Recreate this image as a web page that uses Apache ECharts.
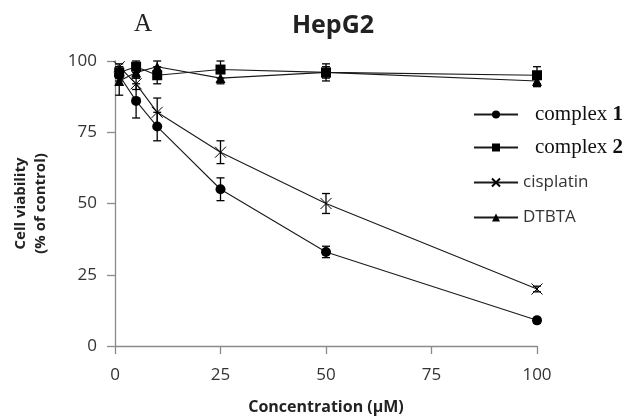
<!DOCTYPE html>
<html>
<head>
<meta charset="utf-8">
<script src="https://cdn.jsdelivr.net/npm/echarts@6/dist/echarts.min.js"></script>
<style>
  html, body { margin: 0; padding: 0; background: #fff; }
  #chart { width: 639px; height: 420px; }
</style>
</head>
<body>
<div id="chart"></div>
<script>
// concentrations (uM)
const conc = [1, 5, 10, 25, 50, 100];

const complex1 = [95, 86, 77, 55, 33, 9];
const complex1Err = [2, 6, 5, 4, 2, 1];
const complex2 = [96, 98, 95, 97, 96, 95];
const complex2Err = [2, 2, 3, 3, 3, 3];
const cisplatin = [98, 92, 82, 68, 50, 20];
const cisplatinErr = [1, 2, 5, 4, 3.5, 1];
const dtbta = [93, 96, 98, 94, 96, 93];
const dtbtaErr = [5, 2, 2, 2, 2, 2];

const seriesNames = ['complex 1', 'complex 2', 'cisplatin', 'DTBTA'];
const xTicks = [0, 25, 50, 75, 100];
const yTicks = [0, 25, 50, 75, 100];

const chart = echarts.init(document.getElementById('chart'));

const sans = '"Open Sans", sans-serif';
const serif = '"Liberation Serif", serif';
const crossPath = 'path://M0,0L10,10M10,0L0,10';

function pts(vals) {
  return conc.map((c, i) => [c, vals[i]]);
}

function errSeries(vals, errs) {
  return {
    type: 'custom',
    silent: true,
    z: 3,
    data: conc.map((c, i) => [c, vals[i] - errs[i], vals[i] + errs[i]]),
    renderItem: function (params, api) {
      const lo = api.coord([api.value(0), api.value(1)]);
      const hi = api.coord([api.value(0), api.value(2)]);
      const w = 4;
      const st = { stroke: '#000', lineWidth: 1.3 };
      return {
        type: 'group',
        children: [
          { type: 'line', shape: { x1: lo[0], y1: lo[1], x2: hi[0], y2: hi[1] }, style: st },
          { type: 'line', shape: { x1: lo[0] - w, y1: lo[1], x2: lo[0] + w, y2: lo[1] }, style: st },
          { type: 'line', shape: { x1: hi[0] - w, y1: hi[1], x2: hi[0] + w, y2: hi[1] }, style: st }
        ]
      };
    }
  };
}

function lineSeries(name, vals, symbol, size, extra) {
  return Object.assign({
    name: name,
    type: 'line',
    data: pts(vals),
    symbol: symbol,
    symbolSize: size,
    z: 4,
    lineStyle: { color: '#1a1a1a', width: 1.1 },
    itemStyle: { color: '#000' }
  }, extra || {});
}

// one legend block per entry so the rows can sit where the reference has them
const legendTops = [99, 132, 169, 204];
const legendRich = {
  s: { fontFamily: serif, fontSize: 21, color: '#111', padding: [0, 0, 0, 12] },
  b: { fontFamily: serif, fontSize: 21, fontWeight: 'bold', color: '#111' },
  t: { fontFamily: sans, fontSize: 17, color: '#333' }
};
const legends = seriesNames.map((name, i) => ({
  orient: 'vertical',
  left: 468, top: legendTops[i],
  itemWidth: 44, itemHeight: 10,
  data: [name],
  formatter: function (n) {
    if (n === 'complex 1') return '{s|complex }{b|1}';
    if (n === 'complex 2') return '{s|complex }{b|2}';
    return '{t|' + n + '}';
  },
  textStyle: { rich: legendRich }
}));

const options = {
  backgroundColor: '#fff',
  animation: false,
  title: [
    {
      text: 'HepG2',
      left: 328, top: 8, textAlign: 'center',
      textStyle: { fontFamily: sans, fontSize: 25, fontWeight: 'bold', color: '#222' }
    },
    {
      text: 'A',
      left: 138, top: 7, textAlign: 'center',
      textStyle: { fontFamily: serif, fontSize: 25, fontWeight: 'normal', color: '#222' }
    }
  ],
  grid: { left: 115, right: 102, top: 61, bottom: 74 },
  legend: legends,
  xAxis: {
    type: 'value',
    min: 0, max: 100, interval: 25,
    name: 'Concentration (\u00b5M)',
    nameLocation: 'middle',
    nameGap: 53,
    nameTextStyle: { fontFamily: sans, fontSize: 16, fontWeight: 'bold', color: '#222' },
    splitLine: { show: false },
    axisLine: { lineStyle: { color: '#8a8a8a', width: 1.3 } },
    axisTick: { show: true, length: 8, lineStyle: { color: '#8a8a8a', width: 1.3 } },
    axisLabel: {
      margin: 21, fontFamily: sans, fontSize: 17, color: '#333',
      formatter: v => xTicks.includes(v) ? String(v) : ''
    }
  },
  yAxis: {
    type: 'value',
    min: 0, max: 100, interval: 25,
    name: 'Cell viability\n(% of control)',
    nameLocation: 'middle',
    nameGap: 64,
    nameRotate: 90,
    nameTextStyle: { fontFamily: sans, fontSize: 15, fontWeight: 'bold', color: '#222', lineHeight: 20 },
    splitLine: { show: false },
    axisLine: { show: true, lineStyle: { color: '#8a8a8a', width: 1.3 } },
    axisTick: { show: true, length: 8, lineStyle: { color: '#8a8a8a', width: 1.3 } },
    axisLabel: {
      margin: 18, fontFamily: sans, fontSize: 17, color: '#333',
      formatter: v => yTicks.includes(v) ? String(v) : ''
    }
  },
  series: [
    lineSeries('complex 1', complex1, 'circle', 10),
    lineSeries('complex 2', complex2, 'rect', 10),
    lineSeries('cisplatin', cisplatin, crossPath, 11, {
      itemStyle: { color: '#000', borderColor: '#000', borderWidth: 1 }
    }),
    lineSeries('DTBTA', dtbta, 'triangle', 10),
    errSeries(complex1, complex1Err),
    errSeries(complex2, complex2Err),
    errSeries(cisplatin, cisplatinErr),
    errSeries(dtbta, dtbtaErr)
  ]
};

chart.setOption(options);
</script>
</body>
</html>
